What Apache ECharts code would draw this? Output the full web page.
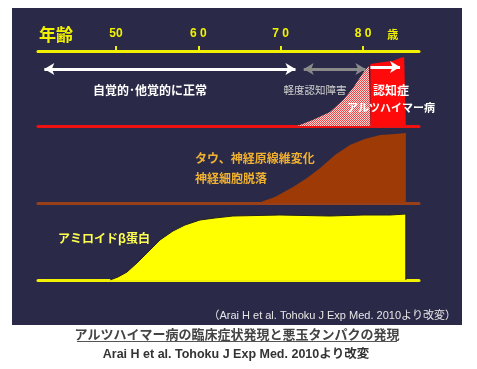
<!DOCTYPE html>
<html><head><meta charset="utf-8">
<script src="https://cdn.jsdelivr.net/npm/echarts@6/dist/echarts.min.js"></script>
<style>html,body{margin:0;padding:0;background:#fff}#c{width:477px;height:369px}</style>
</head><body><div id="c"></div>
<script>
// Age axis
const ageMin = 40.53, ageMax = 86.8;
const ageTicks = [50, 60, 70, 80];
const ageTickLabels = ['50', '6 0', '7 0', '8 0'];
const ageUnitAt = 83.6;
const ageUnitLabel = '歳';

// Clinical band: mild cognitive impairment (hatched) and dementia (red)
const mciAges = [72.0, 73.9, 76.0, 77.6, 78.8, 80.0, 80.7, 80.9, 80.9];
const mciVals = [0, 6, 14, 26, 38, 53, 60, 62, 0];
const demAges = [80.9, 80.9, 82.5, 83.6, 84.5, 85.0, 85.2, 85.2];
const demVals = [0, 62, 64, 65, 68, 69, 68, 0];

// Arrows [from, to, level]
const normalArrow = [41.3, 71.8, 57];
const mciArrow = [72.8, 80.3, 57];
const dementiaArrow = [80.9, 84.5, 59];

// Tau / neuronal loss
const tauAges = [67.25, 69.3, 71.5, 73.2, 74.8, 76.6, 78.4, 80.2, 82.1, 83.9, 85.2, 85.2];
const tauVals = [0, 6, 16, 25, 35, 48, 58, 64, 68, 69, 70, 0];

// Amyloid beta
const abAges = [49.27, 50.24, 51.34, 52.55, 53.77, 55.34, 56.92, 58.38, 60.2, 62.0, 64.2, 69.9, 76.0, 80.0, 83.3, 85.2, 85.2];
const abVals = [0, 3, 8, 17, 27, 40, 49, 55, 60, 62, 64, 65, 64, 65, 65, 66, 0];

// Texts
const labelNormal = '自覚的･他覚的に正常';
const labelMci = '軽度認知障害';
const labelDementia = '認知症';
const labelAD = 'アルツハイマー病';
const labelTau1 = 'タウ、神経原線維変化';
const labelTau2 = '神経細胞脱落';
const labelAb = 'アミロイドβ蛋白';
const labelAge = '年齢';
const citation = '（Arai H et al. Tohoku J Exp Med. 2010より改変）';
const caption1 = 'アルツハイマー病の臨床症状発現と悪玉タンパクの発現';
const caption2 = 'Arai H et al. Tohoku J Exp Med. 2010より改変';

const zip = (a, b) => a.map((v, i) => [v, b[i]]);

// hatched pattern
const pat = document.createElement('canvas');
pat.width = 2; pat.height = 2;
const pc = pat.getContext('2d');
pc.fillStyle = '#ffd6d6'; pc.fillRect(0, 0, 2, 2);
pc.fillStyle = '#e84848'; pc.fillRect(0, 0, 1, 1); pc.fillRect(1, 1, 1, 1);

const JP = '"Noto Sans CJK JP", sans-serif';
const LAT = '"Liberation Sans", "Noto Sans CJK JP", sans-serif';

const gridCommon = { left: 38, right: 58, height: 75 };
const bandAxis = (gi, color) => ({
  type: 'value', gridIndex: gi, position: 'bottom', min: ageMin, max: ageMax,
  axisLine: { show: true, onZero: false, lineStyle: { color, width: 3 } },
  axisTick: { show: false }, axisLabel: { show: false }, splitLine: { show: false }
});
const hiddenY = gi => ({ type: 'value', gridIndex: gi, min: 0, max: 75, show: false, splitLine: { show: false } });

const arrowItem = (arr, color, both) => [
  { coord: [arr[0], arr[2]], symbol: both ? 'arrow' : 'none', lineStyle: { color, width: 3, type: 'solid' }, itemStyle: { color } },
  { coord: [arr[1], arr[2]], symbol: 'arrow', lineStyle: { color, width: 3, type: 'solid' }, itemStyle: { color } }
];

const txt = (text, x, y, fill, size, weight, align, family) => ({
  type: 'text', x, y, z: 100, silent: true,
  style: { text, fill, fontSize: size, fontWeight: weight || 'bold', fontFamily: family || JP, align: align || 'center', verticalAlign: 'middle' }
});

const chart = echarts.init(document.getElementById('c'), null, { renderer: 'canvas' });
chart.setOption({
  backgroundColor: '#ffffff',
  animation: false,
  grid: [
    Object.assign({ top: 51 }, gridCommon),
    Object.assign({ top: 128 }, gridCommon),
    Object.assign({ top: 205 }, gridCommon)
  ],
  xAxis: [
    {
      type: 'value', gridIndex: 0, position: 'top', min: ageMin, max: ageMax,
      axisLine: { show: true, onZero: false, lineStyle: { color: '#f2f200', width: 3 } },
      axisTick: { show: true, customValues: ageTicks, length: 5, lineStyle: { color: '#f2f200', width: 2 } },
      axisLabel: {
        show: true, customValues: ageTicks.concat([ageUnitAt]), margin: 11,
        color: '#f2f200', fontSize: 12, fontWeight: 'bold', fontFamily: LAT,
        formatter: v => {
          const i = ageTicks.indexOf(v);
          return i >= 0 ? ageTickLabels[i] : '{u|' + ageUnitLabel + '}';
        },
        rich: { u: { color: '#f2f200', fontSize: 11, fontWeight: 'bold', fontFamily: JP } }
      },
      splitLine: { show: false }
    },
    bandAxis(0, '#ee1111'),
    bandAxis(1, '#98401a'),
    bandAxis(2, '#f2f200')
  ],
  yAxis: [hiddenY(0), hiddenY(1), hiddenY(2)],
  series: [
    {
      type: 'line', xAxisIndex: 0, yAxisIndex: 0, data: zip(mciAges, mciVals), symbol: 'none',
      lineStyle: { width: 0 }, areaStyle: { color: { image: pat, repeat: 'repeat' }, opacity: 1 },
      markLine: {
        silent: true, symbolSize: [9, 10], label: { show: false },
        lineStyle: { type: 'solid', width: 3 },
        data: [arrowItem(normalArrow, '#ffffff', true), arrowItem(mciArrow, '#8a8a8a', true)]
      }
    },
    {
      type: 'line', xAxisIndex: 0, yAxisIndex: 0, data: zip(demAges, demVals), symbol: 'none',
      lineStyle: { width: 0 }, areaStyle: { color: '#ff0a0a', opacity: 1 },
      markLine: {
        silent: true, symbolSize: [9, 10], label: { show: false },
        lineStyle: { type: 'solid', width: 3 },
        data: [arrowItem(dementiaArrow, '#ffffff', false)]
      }
    },
    {
      type: 'line', xAxisIndex: 2, yAxisIndex: 1, data: zip(tauAges, tauVals), symbol: 'none',
      lineStyle: { width: 0 }, areaStyle: { color: '#9e3a06', opacity: 1 }
    },
    {
      type: 'line', xAxisIndex: 3, yAxisIndex: 2, data: zip(abAges, abVals), symbol: 'none',
      lineStyle: { width: 1, color: '#222222' }, areaStyle: { color: '#ffff00', opacity: 1 }
    }
  ],
  graphic: [
    { type: 'rect', z: -100, silent: true, shape: { x: 12, y: 8, width: 450, height: 317 }, style: { fill: '#2a2a48' } },
    txt(labelAge, 56, 35, '#f2f200', 17, 'bold'),
    txt(labelNormal, 150, 90, '#ffffff', 12, 'bold'),
    txt(labelMci, 315, 90, '#d0d0d0', 10.5, 'normal'),
    txt(labelDementia, 391, 90, '#ffffff', 12, 'bold'),
    txt(labelAD, 391, 108, '#ffffff', 11, 'bold'),
    txt(labelTau1, 195, 158, '#f0b030', 12, 'bold', 'left'),
    txt(labelTau2, 195, 178, '#f0b030', 12, 'bold', 'left'),
    txt(labelAb, 58, 238, '#ffff50', 12, 'bold', 'left'),
    txt(citation, 456, 316, '#e6e6e6', 11, 'normal', 'right', LAT),
    txt(caption1, 237, 334, '#444444', 13, 'bold'),
    { type: 'line', z: 100, silent: true, shape: { x1: 77, y1: 341.5, x2: 397, y2: 341.5 }, style: { stroke: '#555555', lineWidth: 1 } },
    txt(caption2, 236, 355, '#333333', 12.5, 'bold', 'center', LAT)
  ]
});
</script></body></html>
